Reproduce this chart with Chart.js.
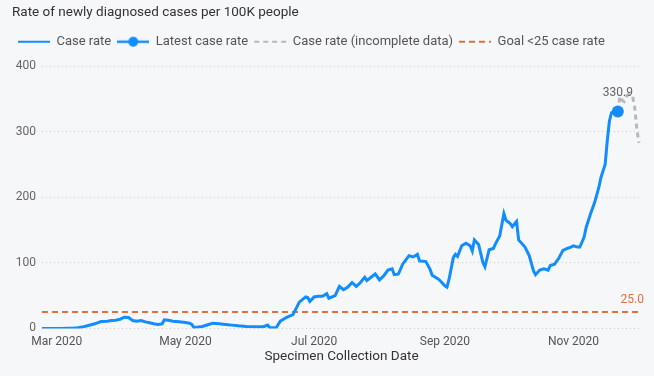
<!DOCTYPE html>
<html><head><meta charset="utf-8">
<script src="https://cdn.jsdelivr.net/npm/chart.js@4/dist/chart.umd.min.js"></script>
<style>html,body{margin:0;padding:0;background:#f6f7f9;}canvas{display:block;}</style>
</head><body>
<canvas id="c" width="654" height="376"></canvas>
<script>
// ---- data (x = days since 1 Mar 2020) ----
const days = [-7,-4,-1,2,5,8,10,12,15,18,21,24,26,28,30,32,34,36,38,40,42,44,46,48,50,51,53,55,58,61,63,64,65,67,69,72,74,77,80,83,86,90,94,98,100,101,104,106,109,112,115,118,119,120,122,124,126,128,129,132,134,136,138,140,142,144,146,147,149,151,153,155,157,159,160,162,164,167,169,171,172,175,177,178,181,182,184,185,186,188,189,190,192,194,196,197,198,200,202,203,205,207,208,210,212,213,215,216,218,219,222,224,226,227,229,231,233,234,236,238,240,242,243,245,247,248,250,251,253,255,257,258,260,261,262,263,266];
const caseRate = [0,0,0,0,0.3,0.5,1,2,4.5,7,10.5,11,12,12.5,14,17,16.5,12,11,12,10,8.5,7,6,7,13,12.5,11,10,9,8,6,1.5,2,3,6,8,7,6,5,4,3,2.5,2.5,5,1.5,1,11,17,21,40,48,47,41,48,49,49,53,46,50,64,59,63,70,64,70,78,73,78,83,74,80,89,91,82,83,98,111,109,113,103,102,90,81,75,72,65,63,75,108,113,110,126,130,126,118,135,128,101,94,120,122,129,141,175,165,160,155,163,135,124,111,88,82,89,91,89,96,98,107,119,122,123,126,124,124,139,154,174,192,215,230,250,286,316,329,330.9];
const latestDays = [266];
const latestRate = [330.9];
const incompleteDays = [266,267,268,269,270,271,272,273,274,275,276];
const incompleteRate = [330.9,354,348,346,354,357,356,354,338,305,283];
const goalDays = [-7,276];
const goalRate = [25,25];
const tickDays = [0,61,122,184,245];
const tickLabels = ['Mar 2020','May 2020','Jul 2020','Sep 2020','Nov 2020'];
const seriesNames = ['Case rate','Latest case rate','Case rate (incomplete data)','Goal <25 case rate'];
const chartTitle = 'Rate of newly diagnosed cases per 100K people';
const xTitle = 'Specimen Collection Date';

const FONT = "Roboto, 'Noto Sans', sans-serif";
const BLUE = '#118DFF', GREY = '#B8B8B8', ORANGE = '#E0703A';
Chart.defaults.font.family = FONT;

const pts = (xs, ys) => xs.map((x, i) => ({x, y: ys[i]}));

// legend marker: line with dot
const mk = document.createElement('canvas');
mk.width = 32; mk.height = 12;
(function(){const c = mk.getContext('2d');c.strokeStyle=BLUE;c.lineWidth=2.5;c.beginPath();c.moveTo(0,6);c.lineTo(32,6);c.stroke();c.fillStyle=BLUE;c.beginPath();c.arc(16,6,5,0,Math.PI*2);c.fill();})();

const legendSpace = {
  id: 'legendSpace',
  beforeInit(chart) {
    const orig = chart.legend.fit;
    chart.legend.fit = function() { orig.call(this); this.height += 8; };
  }
};

const valueLabels = {
  id: 'valueLabels',
  afterDatasetsDraw(chart) {
    const ctx = chart.ctx;
    const m1 = chart.getDatasetMeta(1);
    const p = m1.data[m1.data.length - 1];
    ctx.save();
    ctx.font = '12px ' + FONT;
    ctx.textBaseline = 'middle';
    ctx.fillStyle = '#666';
    ctx.textAlign = 'center';
    ctx.fillText(latestRate[latestRate.length - 1].toFixed(1), p.x, p.y - 18);
    const m3 = chart.getDatasetMeta(3);
    const g = m3.data[m3.data.length - 1];
    ctx.fillStyle = ORANGE;
    ctx.textAlign = 'right';
    ctx.fillText(goalRate[goalRate.length - 1].toFixed(1), g.x + 5, g.y - 12);
    ctx.restore();
  }
};

new Chart(document.getElementById('c'), {
  type: 'line',
  data: {
    datasets: [
      {label: seriesNames[0], data: pts(days, caseRate), borderColor: BLUE, backgroundColor: BLUE, borderWidth: 3, pointRadius: 0, tension: 0, order: -1},
      {label: seriesNames[1], data: pts(latestDays, latestRate), borderColor: BLUE, backgroundColor: BLUE, borderWidth: 2, pointRadius: 6, pointBorderWidth: 0, showLine: false, order: -2},
      {label: seriesNames[2], data: pts(incompleteDays, incompleteRate), borderColor: GREY, backgroundColor: GREY, borderWidth: 3, borderDash: [5, 4], pointRadius: 0, tension: 0, order: 0},
      {label: seriesNames[3], data: pts(goalDays, goalRate), borderColor: ORANGE, backgroundColor: ORANGE, borderWidth: 2, borderDash: [6, 4], pointRadius: 0, order: 1}
    ]
  },
  options: {
    responsive: false,
    animation: false,
    layout: {padding: {left: 12, right: 13, top: 0, bottom: 11}},
    plugins: {
      tooltip: {enabled: false},
      title: {display: true, text: chartTitle, align: 'start', color: '#333', font: {size: 13.5, weight: 'normal'}, padding: {top: 5, bottom: 8}},
      legend: {
        position: 'top', align: 'start',
        labels: {
          usePointStyle: true, pointStyleWidth: 32, padding: 6, color: '#555', font: {size: 13},
          sort: (a, b) => a.datasetIndex - b.datasetIndex,
          generateLabels(chart) {
            const items = Chart.defaults.plugins.legend.labels.generateLabels(chart);
            items.forEach(it => {
              const ds = chart.data.datasets[it.datasetIndex];
              if (it.datasetIndex === 1) { it.pointStyle = mk; }
              else { it.pointStyle = 'line'; it.lineWidth = 2; it.lineDash = ds.borderDash || []; it.strokeStyle = ds.borderColor; }
            });
            return items;
          }
        }
      }
    },
    scales: {
      x: {
        type: 'linear', min: -7, max: 277,
        grid: {display: false, drawTicks: false}, border: {display: false},
        afterBuildTicks: s => { s.ticks = tickDays.map(v => ({value: v})); },
        ticks: {callback: (v, i) => tickLabels[i], color: '#555', font: {size: 12}, maxRotation: 0, autoSkip: false, padding: 6},
        title: {display: true, text: xTitle, color: '#333', font: {size: 13.5}, padding: {top: -6, bottom: 0}}
      },
      y: {
        min: 0, max: 400,
        afterFit: s => { s.width = 30; },
        ticks: {stepSize: 100, color: '#666', font: {size: 12}, padding: 6},
        grid: {color: '#cccccc', lineWidth: 1, drawTicks: false},
        border: {display: false, dash: [1, 3]}
      }
    }
  },
  plugins: [legendSpace, valueLabels]
});
</script>
</body></html>
